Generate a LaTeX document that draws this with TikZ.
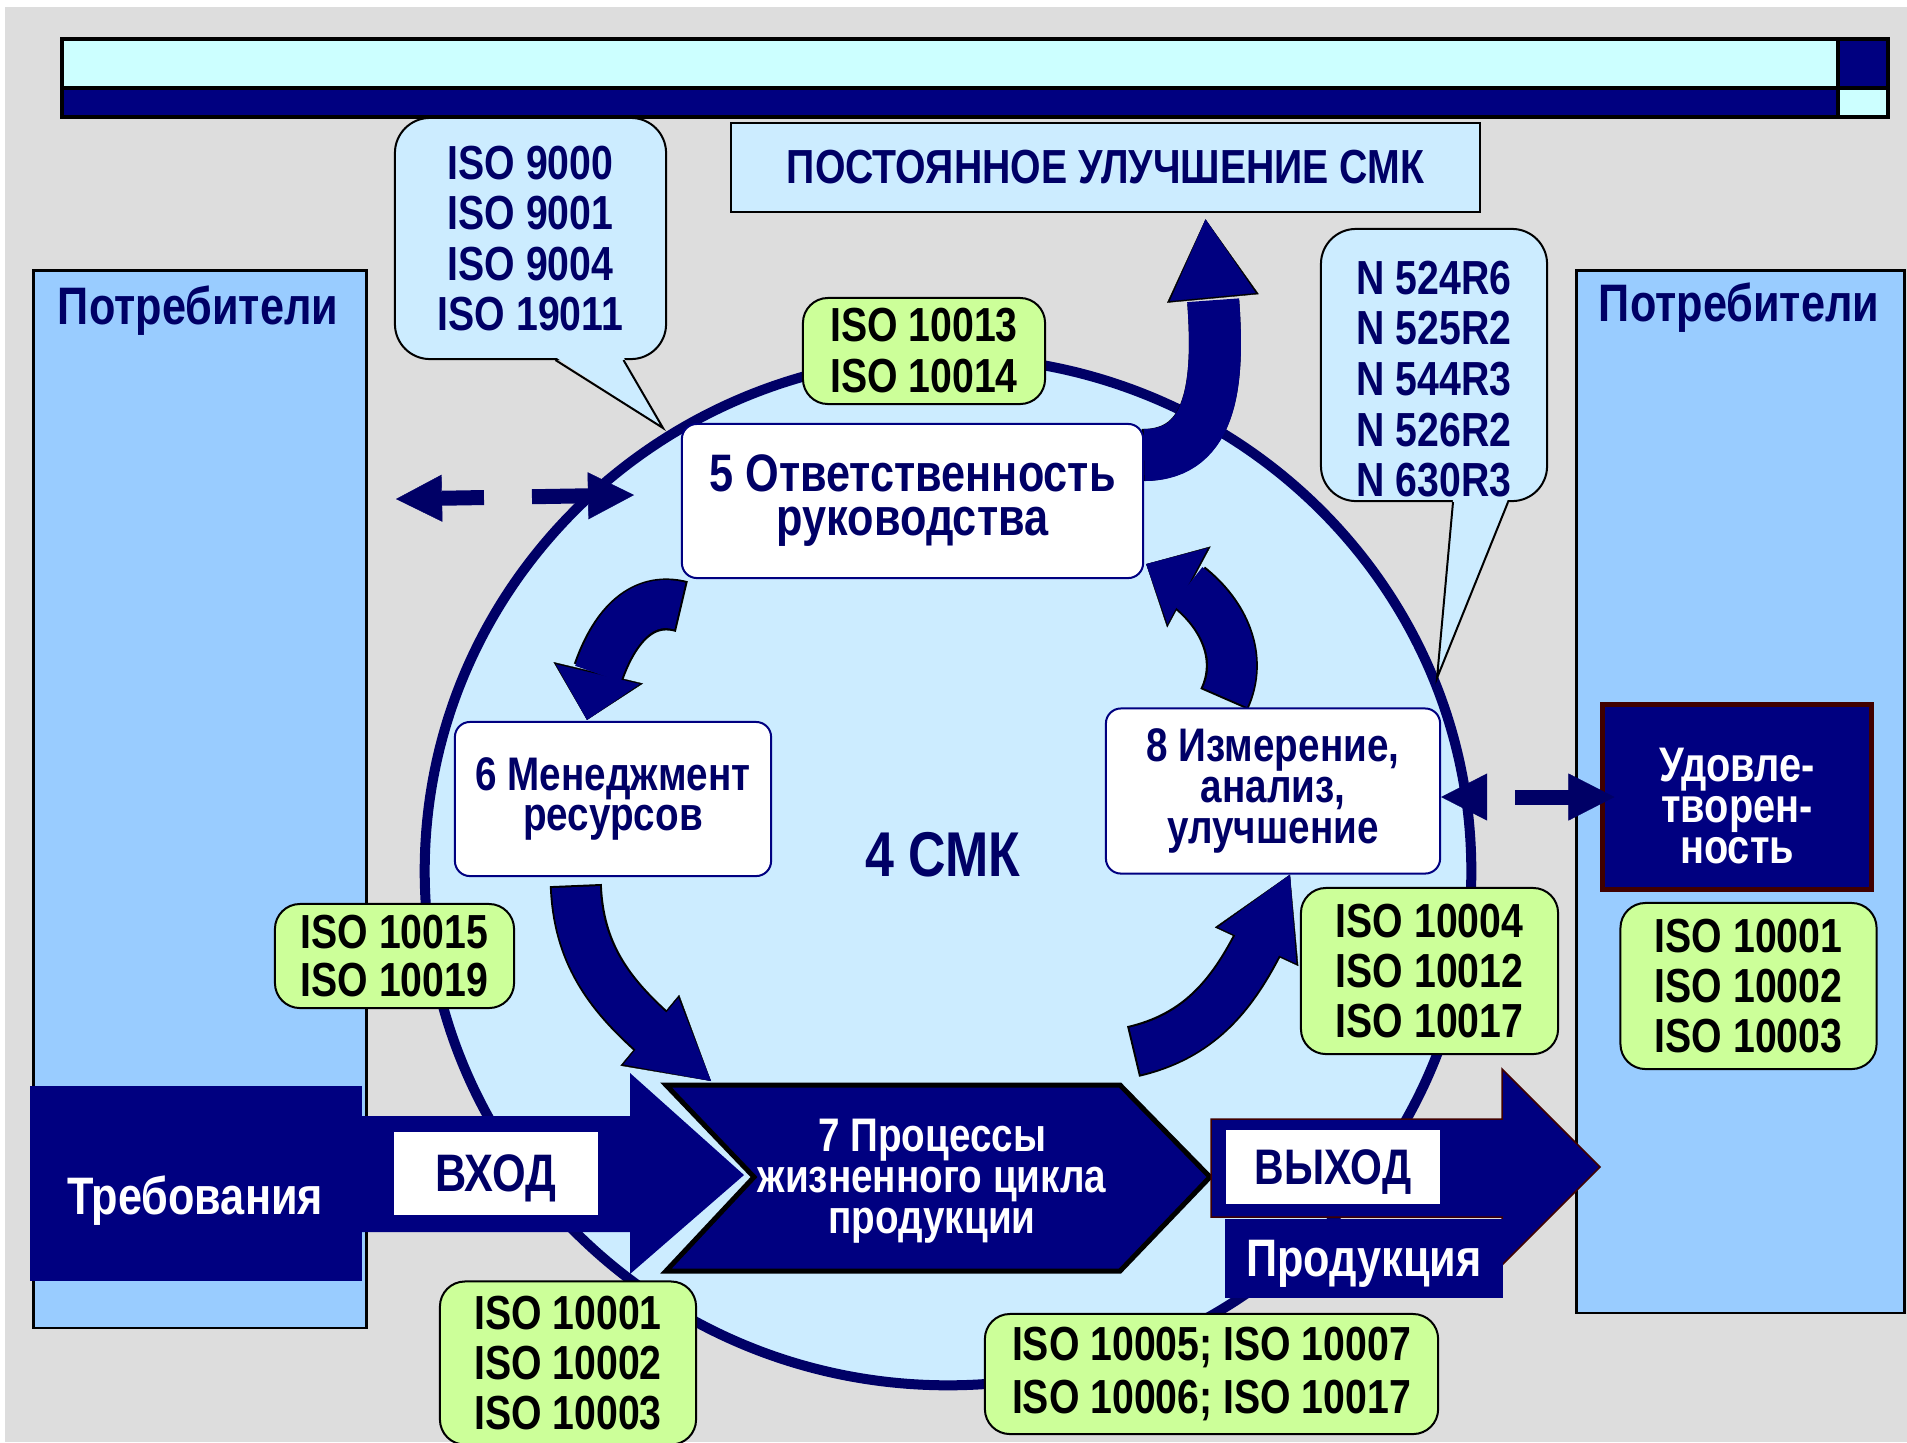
\documentclass[tikz,border=0pt]{standalone}
\usepackage{fontspec}
\setmainfont{Liberation Sans}[FakeStretch=0.82]
\usetikzlibrary{positioning, calc, shapes.geometric}
\usetikzlibrary{arrows.meta, bending}
\definecolor{navyfill}{RGB}{0,0,128}
\definecolor{navyink}{RGB}{0,0,102}
\definecolor{paleblue}{RGB}{204,236,255}
\definecolor{skyblue}{RGB}{153,204,255}
\definecolor{isogreen}{RGB}{204,255,153}
\definecolor{barcyan}{RGB}{204,255,255}
\definecolor{bggray}{RGB}{221,221,221}
\definecolor{darkmaroon}{RGB}{64,0,0}
\newcommand{\fsz}[2]{\fontsize{#1}{#2}\selectfont\bfseries}
\lineskiplimit=-100pt
\pgfdeclarelayer{base}
\pgfdeclarelayer{flows}
\pgfsetlayers{base,flows,main}

\begin{document}
\begin{tikzpicture}[x=0.01cm, y=-0.01cm]
  \tikzstyle{panel}=[draw=black, fill=skyblue, line width=0.025cm, inner sep=0pt]
  \tikzstyle{note}=[draw=black, fill=paleblue, line width=0.02cm, rounded corners=0.35cm, align=center, text=navyink, font=\fsz{13.6}{14.4}, inner sep=0pt]
  \tikzstyle{iso}=[draw=black, fill=isogreen, line width=0.02cm, rounded corners=0.25cm, align=center, font=\fsz{13.6}{14.3}, inner sep=0pt]
  \tikzstyle{stage}=[draw=navyfill, fill=white, line width=0.02cm, rounded corners=0.15cm, align=center, text=navyink, inner sep=0pt]
  \tikzstyle{dark}=[fill=navyfill, text=white, align=center, inner sep=0pt]
  \tikzstyle{tag}=[fill=white, text=navyink, inner sep=0pt, text depth=0pt, font=\fsz{15}{17}]
  \tikzstyle{flow}=[draw=navyfill, line width=0.48cm, -{Triangle[length=0.78cm, width=0.86cm, line width'=0.1pt]},
    preaction={draw=black, line width=0.52cm, shorten <=-0.02cm, -{Triangle[length=0.795cm, width=0.92cm, line width'=0.1pt]}}]
  \tikzstyle{stubflow}=[draw=navyfill, line width=0.48cm, -{Triangle[length=0.47cm, width=0.86cm, line width'=0.1pt]},
    preaction={draw=black, line width=0.52cm, shorten <=-0.02cm, -{Triangle[length=0.485cm, width=0.92cm, line width'=0.1pt]}}]
  \tikzstyle{dashflow}=[draw=navyink, line width=0.15cm, {Triangle[length=0.46cm, width=0.47cm, line width'=0.1pt]}-{Triangle[length=0.46cm, width=0.47cm, line width'=0.1pt]}]

  \useasboundingbox (0,0) rectangle (1907,1442);
  \begin{pgfonlayer}{base}
  \fill[white] (0,0) rectangle (1907,1442);
  \fill[bggray] (5,7) rectangle (1907,1442);

  \draw[fill=barcyan, line width=0.035cm] (62,39) rectangle (1838,88);
  \draw[fill=navyfill, line width=0.035cm] (62,88) rectangle (1838,117);
  \draw[fill=navyfill, line width=0.035cm] (1838,39) rectangle (1888,88);
  \draw[fill=barcyan, line width=0.035cm] (1838,88) rectangle (1888,117);

  \node[panel, minimum width=3.33cm, minimum height=10.57cm, anchor=north west] (custL) at (32,269) {};
  \node[panel, minimum width=3.28cm, minimum height=10.42cm, anchor=north west] (custR) at (1575,269) {};
  \node[font=\fsz{15}{17}, text=navyink, text depth=0pt] (lblL) at (198,305) {Потребители};
  \node[font=\fsz{15}{17}, text=navyink, text depth=0pt] (lblR) at (1739,302) {Потребители};

  \node[ellipse, draw=navyink, fill=paleblue, line width=0.1cm, minimum width=10.46cm, minimum height=10.28cm, inner sep=0pt] (qms) at (948,871) {};
  \end{pgfonlayer}

  \node[note, minimum width=2.71cm, minimum height=2.41cm] (call1) at (530.5,238.5) {ISO 9000\\ISO 9001\\ISO 9004\\ISO 19011};
  \coordinate (tip1) at (663,428);
  \fill[paleblue] ($(call1.south)+(25,-3)$) -- (tip1) -- ($(call1.south)+(93,-3)$) -- cycle;
  \draw[line width=0.02cm] ($(call1.south)+(25,0)$) -- (tip1) -- ($(call1.south)+(93,0)$);

  \node[note, minimum width=2.26cm, minimum height=2.72cm] (call2) at (1434,365) {};
  \node[font=\fsz{13.6}{14.4}, text=navyink, align=center] (refs2) at (1434,379) {N 524R6\\N 525R2\\N 544R3\\N 526R2\\N 630R3};
  \coordinate (tip2) at (1437,678);
  \fill[paleblue] ($(call2.south)+(19,-3)$) -- (tip2) -- ($(call2.south)+(74,-3)$) -- cycle;
  \draw[line width=0.02cm] ($(call2.south)+(19,0)$) -- (tip2) -- ($(call2.south)+(74,0)$);

  \node[draw=black, fill=paleblue, line width=0.025cm, minimum width=7.49cm, minimum height=0.89cm, font=\fsz{13.6}{15}, text=navyink] (kaizen) at (1105.5,167.5) {ПОСТОЯННОЕ УЛУЧШЕНИЕ СМК};

  \node[iso, minimum width=2.42cm, minimum height=1.06cm, font=\fsz{13.6}{14.5}] (iso13) at (924,351) {ISO 10013\\ISO 10014};
  \node[stage, minimum width=4.61cm, minimum height=1.54cm, font=\fsz{15}{12.5}] (box5) at (912.5,501) {5 Ответственность\\руководства};
  \node[iso, minimum width=2.39cm, minimum height=1.04cm, font=\fsz{13.6}{13.4}] (iso15) at (394.5,956) {ISO 10015\\ISO 10019};
  \node[stage, minimum width=3.16cm, minimum height=1.54cm, font=\fsz{13.4}{11.2}] (box6) at (613,799) {6 Менеджмент\\ресурсов};
  \node[font=\fsz{18}{20}, text=navyink] (smk) at (943,855) {4 СМК};
  \node[stage, minimum width=3.34cm, minimum height=1.65cm, font=\fsz{13.4}{11.6}] (box8) at (1273,791) {8 Измерение,\\анализ,\\улучшение};
  \node[iso, minimum width=2.57cm, minimum height=1.66cm] (iso4) at (1429.5,971) {ISO 10004\\ISO 10012\\ISO 10017};
  \node[iso, minimum width=2.56cm, minimum height=1.66cm] (isoR) at (1748.5,986) {ISO 10001\\ISO 10002\\ISO 10003};
  \node[iso, minimum width=2.56cm, minimum height=1.63cm] (isoBL) at (568,1363) {ISO 10001\\ISO 10002\\ISO 10003};
  \node[iso, minimum width=4.53cm, minimum height=1.20cm, font=\fsz{13.6}{15.1}] (iso5) at (1211.5,1374) {ISO 10005; ISO 10007\\ISO 10006; ISO 10017};

  \node[dark, draw=darkmaroon, line width=0.05cm, minimum width=2.68cm, minimum height=1.84cm] (satisf) at (1737,797) {};
  \node[text=white, align=center, font=\fsz{13.8}{11.7}] (satisfT) at (1737,806) {Удовле-\\творен-\\ность};

  \node[dark, minimum width=3.32cm, minimum height=1.95cm] (reqs) at (196,1183.5) {};
  \node[text=white, text depth=0pt, font=\fsz{15}{17}] (reqsT) at (195,1195) {Требования};
  \fill[navyfill] (361,1116) -- (630,1116) -- (630,1073) -- (744,1175) -- (630,1274) -- (630,1232) -- (361,1232) -- cycle;
  \node[tag, minimum width=2.04cm, minimum height=0.83cm] (inp) at (496,1173.5) {ВХОД};

  \draw[fill=navyfill, line width=0.05cm] (666,1085) -- (1120,1085) -- (1210,1177) -- (1120,1271) -- (666,1271) -- (754,1177) -- cycle;
  \node[text=white, align=center, font=\fsz{13.4}{11.6}] (proc) at (932,1181) {7 Процессы\\жизненного цикла\\продукции};

  \draw[fill=navyfill, draw=darkmaroon, line width=0.015cm] (1211,1119) -- (1502,1119) -- (1502,1069) -- (1600,1167) -- (1502,1265) -- (1502,1217) -- (1211,1217) -- cycle;
  \node[tag, minimum width=2.14cm, minimum height=0.74cm, font=\fsz{14.2}{16}] (outp) at (1333,1167) {ВЫХОД};
  \node[dark, draw=navyfill, text depth=0pt, minimum width=2.76cm, minimum height=0.77cm, font=\fsz{15}{17}] (prod) at (1364,1258.5) {Продукция};

  \coordinate (in7) at (711,1081);
  \coordinate (out7) at (1135,1051);
  \begin{pgfonlayer}{flows}
  \path ($(box5.south west)+(-1,27)$) edge[stubflow, out=165, in=82] ($(box6.north)+(-26,-1)$);
  \path ($(box6.south west)+(122,10)$) edge[flow, out=272, in=141] (in7);
  \path (out7) edge[flow, out=13, in=246] ($(box8.south)+(17,0)$);
  \path ($(box8.north)+(-48,-10)$) edge[stubflow, out=65, in=-18] ($(box5.south east)+(2,-15)$);
  \path ($(box5.east)+(0,-46)$) edge[flow, line width=0.52cm, out=0, in=-85] ($(kaizen.south)+(100,6)$);
  \end{pgfonlayer}

  \coordinate (dl1) at (396,499);
  \coordinate (dl2) at (634,495);
  \draw[dashflow, dash pattern=on 0.42cm off 0.48cm on 1cm] (dl1) -- (dl2);
  \coordinate (dr1) at ($(box8.east)+(0,6)$);
  \coordinate (dr2) at ($(satisf.west)+(14,0)$);
  \draw[dashflow, dash pattern=on 0cm off 0.28cm on 1cm] (dr1) -- (dr2);
\end{tikzpicture}
\end{document}
